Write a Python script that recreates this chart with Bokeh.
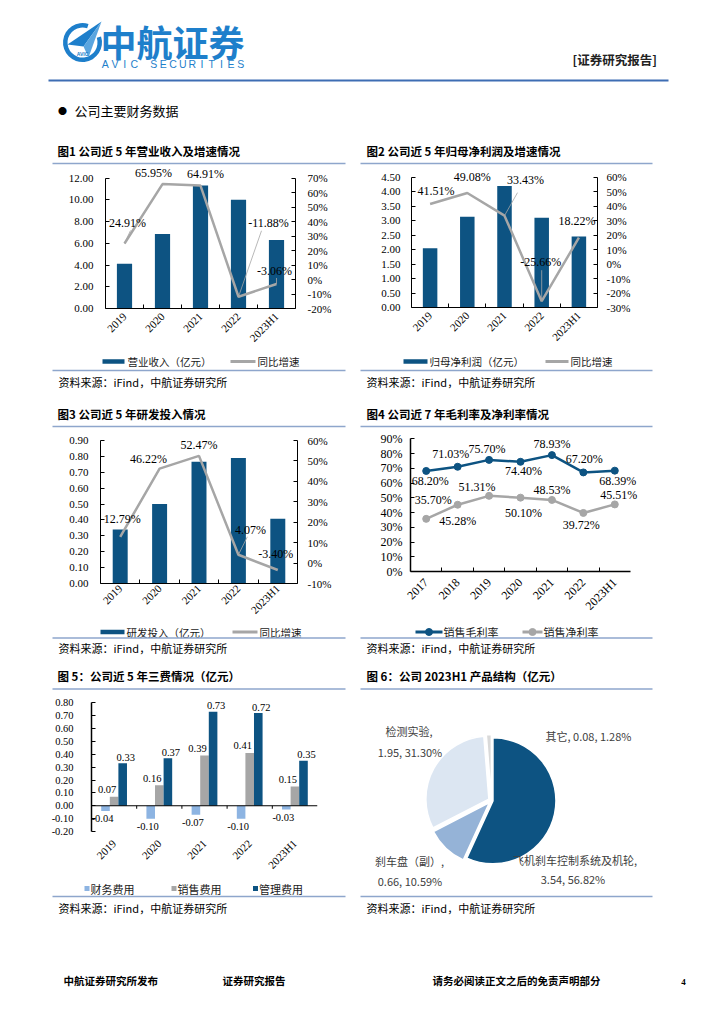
import numpy as np
from math import pi
from bokeh.plotting import figure
from bokeh.models import (Range1d, LinearAxis, FixedTicker, PrintfTickFormatter,
                          ColumnDataSource, LabelSet)
from bokeh.layouts import column, row
from bokeh.embed import file_html
from bokeh.resources import INLINE
from bokeh.core.properties import value

CJK = "Noto Sans CJK SC"
SERIF = "Liberation Serif"
SANS = "Liberation Sans"
DARK = "#0D5382"
GRAY = "#A6A6A6"
LBLUE = "#8DB4E2"
RULE = "#8EA6CC"
BRAND = "#1E7FCB"

# ---------------- data ----------------
years5 = ["2019", "2020", "2021", "2022", "2023H1"]
revenue = [4.13, 6.86, 11.33, 10.01, 6.31]
revenue_yoy = [24.91, 65.95, 64.91, -11.88, -3.06]
net_profit = [2.05, 3.13, 4.20, 3.10, 2.45]
net_profit_yoy = [41.51, 49.08, 33.43, -25.66, 18.22]
rd_input = [0.34, 0.50, 0.766, 0.79, 0.408]
rd_yoy = [12.79, 46.22, 52.47, 4.07, -3.40]
years7 = ["2017", "2018", "2019", "2020", "2021", "2022", "2023H1"]
gross_margin = [68.20, 71.03, 75.70, 74.40, 78.93, 67.20, 68.39]
net_margin = [35.70, 45.28, 51.31, 50.10, 48.53, 39.72, 45.51]
fin_cost = [-0.04, -0.10, -0.07, -0.10, -0.03]
sell_cost = [0.07, 0.16, 0.39, 0.41, 0.15]
admin_cost = [0.33, 0.37, 0.73, 0.72, 0.35]
products = ["飞机刹车控制系统及机轮", "刹车盘（副）", "检测实验", "其它"]
product_value = [3.54, 0.66, 1.95, 0.08]
product_share = [56.82, 10.59, 31.30, 1.28]


# ---------------- helpers ----------------
def deco(x0, x1, y0, y1):
    p = figure(width=int(round(x1 - x0)), height=int(round(y1 - y0)),
               x_range=Range1d(x0, x1), y_range=Range1d(y1, y0),
               x_axis_location=None, y_axis_location=None, title=None,
               output_backend="svg", toolbar_location=None, min_border=0)
    p.grid.visible = False
    p.outline_line_color = None
    return p


def txt(p, x, y, s, size, font=CJK, color="#000000", align="left", bold=False, baseline="middle"):
    p.text(x=[x], y=[y], text=[s], text_font=value(font), text_font_size=f"{size}px",
           text_color=color, text_align=align, text_baseline=baseline,
           text_font_style="bold" if bold else "normal")


def rule(p, x0, x1, y, color=RULE, w=1.5):
    p.segment(x0=[x0], y0=[y], x1=[x1], y1=[y], line_color=color, line_width=w)


def leg_box(p, x0, x1, y, color, h=4.5):
    p.quad(left=[x0], right=[x1], top=[y - h / 2], bottom=[y + h / 2], fill_color=color, line_color=None)


def leg_line(p, x0, x1, y, color, w=3, marker=False):
    p.segment(x0=[x0], y0=[y], x1=[x1], y1=[y], line_color=color, line_width=w)
    if marker:
        p.scatter(x=[(x0 + x1) / 2], y=[y], size=7, fill_color=color, line_color=color)


def ticks(lo, hi, step):
    n = int(round((hi - lo) / step))
    return [round(lo + k * step, 4) for k in range(n + 1)]


def base_chart(fig_w, fl, fw, fh, fb, xr, yr):
    p = figure(width=fig_w, height=fh + fb, x_range=xr, y_range=yr,
               min_border_left=fl, min_border_right=fig_w - fl - fw,
               min_border_top=0, min_border_bottom=fb, title=None,
               output_backend="svg", toolbar_location=None)
    p.grid.visible = False
    p.outline_line_color = None
    return p


def style_num_axis(ax, lo, hi, step, fmt, size, standoff, lw=1.0):
    ax.ticker = FixedTicker(ticks=ticks(lo, hi, step))
    ax.bounds = (lo, hi)
    ax.formatter = PrintfTickFormatter(format=fmt)
    ax.axis_line_color = "black"
    ax.axis_line_width = lw
    ax.major_tick_in = 4
    ax.major_tick_out = 0
    ax.major_tick_line_color = "black"
    ax.minor_tick_line_color = None
    ax.major_label_text_font = SERIF
    ax.major_label_text_font_size = f"{size}px"
    ax.major_label_text_color = "black"
    ax.major_label_standoff = standoff


def style_cat_axis(ax, cats, size, standoff, lw=1.0, line=True, tick=True):
    n = len(cats)
    ax.ticker = FixedTicker(ticks=list(range(n)), minor_ticks=[i + 0.5 for i in range(n - 1)])
    ax.bounds = (-0.5, n - 0.5)
    ax.major_label_overrides = {i: c for i, c in enumerate(cats)}
    ax.major_label_orientation = pi / 4
    ax.major_tick_line_color = None
    ax.major_tick_in = 0
    ax.major_tick_out = 0
    ax.minor_tick_in = 4 if tick else 0
    ax.minor_tick_out = 0
    ax.minor_tick_line_color = "black" if tick else None
    ax.axis_line_color = "black" if line else None
    ax.axis_line_width = lw
    ax.major_label_text_font = SERIF
    ax.major_label_text_font_size = f"{size}px"
    ax.major_label_text_color = "black"
    ax.major_label_standoff = standoff


def labels(p, xs, ys, texts, dx, dy, size="12px", range_name="default"):
    src = ColumnDataSource(dict(x=xs, y=ys, t=texts, dx=dx, dy=dy))
    p.add_layout(LabelSet(x="x", y="y", text="t", x_offset="dx", y_offset="dy", source=src,
                          y_range_name=range_name, text_font=value(SERIF), text_font_size=size,
                          text_align="center", text_baseline="middle", text_color="black"))


def dual_chart(cats, bars, rates, fig_w, fl, fw, fig_top, axis_top, axis_bot, fb,
               ymax, ystep, pmin, pmax, bar_w, lstand, rstand, cstand, csize, dx, dy, leaders):
    n = len(cats)
    idx = np.arange(n)
    fh = int(round(axis_bot - fig_top))
    ext = axis_top - fig_top                     # room above the top tick for data labels
    k = fh / (fh - ext)
    p = base_chart(fig_w, fl, fw, fh, fb, Range1d(-0.5, n - 0.5), Range1d(0, ymax * k))
    p.extra_y_ranges = {"pct": Range1d(pmin, pmin + (pmax - pmin) * k)}
    p.vbar(x=idx, top=bars, bottom=0, width=bar_w, fill_color=DARK, line_color=None)
    p.line(x=idx, y=rates, y_range_name="pct", line_color=GRAY, line_width=2.5)
    ux = fw / n
    uy = (fh - ext) / (pmax - pmin)
    x0, y0, x1, y1 = [], [], [], []
    for i, (lx, ly) in enumerate(leaders):
        if lx or ly:
            x0.append(idx[i]); y0.append(rates[i])
            x1.append(idx[i] + lx / ux); y1.append(rates[i] + ly / uy)
    if x0:
        p.segment(x0=x0, y0=y0, x1=x1, y1=y1, y_range_name="pct", line_color=GRAY, line_width=0.8)
    labels(p, idx, rates, [f"{v:.2f}%" for v in rates], dx, dy, range_name="pct")
    style_num_axis(p.yaxis[0], 0, ymax, ystep, "%.2f", 11, lstand)
    ra = LinearAxis(y_range_name="pct")
    p.add_layout(ra, "right")
    style_num_axis(ra, pmin, pmax, 10, "%d%%", 11, rstand)
    style_cat_axis(p.xaxis[0], cats, csize, cstand)
    return p


# ---------------- header (page y 0..166) ----------------
H = deco(0, 724, 0, 166)
H.annular_wedge(x=[82], y=[42], inner_radius=15, outer_radius=19.5,
                start_angle=[np.deg2rad(72)], end_angle=[np.deg2rad(18)],
                direction="anticlock", fill_color=BRAND, line_color=None)
H.patch(x=[101, 67, 83], y=[21, 44, 46], fill_color=BRAND, line_color=None)
H.patch(x=[101, 83, 88], y=[21, 46, 57], fill_color="#5AA5DF", line_color=None)
txt(H, 82, 53, "AVIC", 5, font=SANS, color=BRAND, align="center", bold=True)
txt(H, 100, 40, "中航证券", 36, color=BRAND, bold=True)
brand_en = "AVIC SECURITIES"
for i, ch in enumerate(brand_en):
    txt(H, 100 + 9.67 * (i + 0.5), 63, ch, 10.5, font=SANS, color=BRAND, align="center")
txt(H, 572, 59, "[证券研究报告]", 12.5, color="#222222", bold=True)
rule(H, 48, 668, 80, color="#3D6DB3", w=2)
txt(H, 62, 110, "●", 9, align="center")
txt(H, 74, 110, "公司主要财务数据", 13)
txt(H, 57, 150, "图1  公司近 5 年营业收入及增速情况", 11.5, bold=True)
txt(H, 366, 150, "图2  公司近 5 年归母净利润及增速情况", 11.5, bold=True)
rule(H, 52, 345, 163)
rule(H, 360, 652, 163)

# ---------------- row 1 (page y 166..354) ----------------
c1 = dual_chart(years5, revenue, revenue_yoy, 358, 105, 190, 166, 177.7, 308, 46,
                12, 2, -20, 70, 0.4, 12, 12, 6, 11,
                dx=[3, -9, 5, 30, -2], dy=[20, 11, 12, 74, 13],
                leaders=[(6, 13), (0, 0), (0, 0), (23, 66), (0, 6)])
c2 = dual_chart(years5, net_profit, net_profit_yoy, 366, 53, 186, 166, 176.7, 307, 47,
                4.5, 0.5, -30, 60, 0.39, 11, 9, 6, 11,
                dx=[6, 5, 21, -1, -2], dy=[13, 16, 36, 39, 17],
                leaders=[(0, 0), (0, 0), (13, 23), (0, 31), (0, 0)])

# ---------------- strip 1 (page y 354..430) ----------------
S1 = deco(0, 724, 354, 430)
leg_box(S1, 102, 124, 361, DARK)
txt(S1, 127, 361, "营业收入（亿元）", 10.5, color="#1a1a1a")
leg_line(S1, 230, 255, 361, GRAY)
txt(S1, 257, 361, "同比增速", 10.5, color="#1a1a1a")
leg_box(S1, 403, 427, 361, DARK)
txt(S1, 429, 361, "归母净利润（亿元）", 10.5, color="#1a1a1a")
leg_line(S1, 545, 568, 361, GRAY)
txt(S1, 570, 361, "同比增速", 10.5, color="#1a1a1a")
rule(S1, 52, 345, 370)
rule(S1, 360, 652, 370)
txt(S1, 58, 381, "资料来源：iFind，中航证券研究所", 11)
txt(S1, 366, 381, "资料来源：iFind，中航证券研究所", 11)
txt(S1, 57, 413, "图3  公司近 5 年研发投入情况", 11.5, bold=True)
txt(S1, 366, 413, "图4  公司近 7 年毛利率及净利率情况", 11.5, bold=True)
rule(S1, 52, 345, 426)
rule(S1, 360, 652, 426)

# ---------------- row 2 (page y 430..625) ----------------
c3 = dual_chart(years5, rd_input, rd_yoy, 358, 100, 197, 430, 440, 583, 42,
                0.9, 0.1, -10, 60, 0.38, 12, 10, 3, 11,
                dx=[2, -11, 0, 12, -2], dy=[18, 10, 11, 25, 16],
                leaders=[(0, 0), (0, 0), (0, 0), (9, 18), (0, 0)])

n7 = len(years7)
idx7 = np.arange(n7)
fh4, ext4, fw4, extra_right4 = 141, 8.3, 228, 8
k4 = fh4 / (fh4 - ext4)
c4 = base_chart(366, 52, fw4, fh4, 54,
                Range1d(-0.5, n7 - 0.5 + extra_right4 * n7 / (fw4 - extra_right4)),
                Range1d(0, 90 * k4))
c4.line(x=idx7, y=gross_margin, line_color=DARK, line_width=2.5)
c4.scatter(x=idx7, y=gross_margin, size=7, fill_color=DARK, line_color=DARK)
c4.line(x=idx7, y=net_margin, line_color=GRAY, line_width=2.5)
c4.scatter(x=idx7, y=net_margin, size=7, fill_color=GRAY, line_color=GRAY)
labels(c4, idx7, gross_margin, [f"{v:.2f}%" for v in gross_margin],
       [4, -7, -2, 3, 0, 1, 3], [-10, 13, 11, -9.5, 11, 13.5, -10])
labels(c4, idx7, net_margin, [f"{v:.2f}%" for v in net_margin],
       [7, 0, -12, 3, 0, -2, 4], [19, -16, 9, -15.7, 10, -12, 9])
style_num_axis(c4.yaxis[0], 0, 90, 10, "%d%%", 12, 8, lw=1.5)
style_cat_axis(c4.xaxis[0], years7, 12, 9, lw=1.5)

# ---------------- strip 2 (page y 625..693) ----------------
S2 = deco(0, 724, 625, 693)
leg_box(S2, 100, 124, 631.5, DARK)
txt(S2, 126, 631.5, "研发投入（亿元）", 10.5, color="#1a1a1a")
leg_line(S2, 232, 257, 631.5, GRAY)
txt(S2, 259, 631.5, "同比增速", 10.5, color="#1a1a1a")
leg_line(S2, 415, 442, 631.5, DARK, marker=True)
txt(S2, 443, 631.5, "销售毛利率", 11, color="#1a1a1a")
leg_line(S2, 522, 542, 631.5, GRAY, marker=True)
txt(S2, 543, 631.5, "销售净利率", 11, color="#1a1a1a")
rule(S2, 52, 345, 637.5)
rule(S2, 360, 652, 637.5)
txt(S2, 58, 647, "资料来源：iFind，中航证券研究所", 11)
txt(S2, 366, 647, "资料来源：iFind，中航证券研究所", 11)
txt(S2, 57, 675, "图 5：公司近 5 年三费情况（亿元）", 11.5, bold=True)
txt(S2, 366, 675, "图 6：公司 2023H1 产品结构（亿元）", 11.5, bold=True)
rule(S2, 52, 345, 688.5)
rule(S2, 360, 652, 688.5)

# ---------------- chart 5 (page y 693..880) ----------------
n5 = len(years5)
idx5 = np.arange(n5)
fh5, ext5 = 138, 9.3
k5 = fh5 / (fh5 - ext5)
c5 = base_chart(358, 91, 226, fh5, 49, Range1d(-0.5, n5 - 0.5), Range1d(-0.2, -0.2 + 1.0 * k5))
dodge = [-0.19, 0.0, 0.19]
series5 = [(fin_cost, LBLUE, -3, -8), (sell_cost, GRAY, -7, 7), (admin_cost, DARK, 3, 6)]
for off, (vals, col, ldx, ldy) in zip(dodge, series5):
    c5.vbar(x=idx5 + off, top=vals, bottom=0, width=0.19, fill_color=col, line_color=None)
c5.segment(x0=[-0.5], y0=[0], x1=[n5 - 0.5], y1=[0], line_color="black", line_width=1)
bnd = idx5[:-1] + 0.5
tick_len = 3 / ((fh5 - ext5) / 1.0)
c5.segment(x0=bnd, y0=[0] * len(bnd), x1=bnd, y1=[-tick_len] * len(bnd), line_color="black")
for off, (vals, col, ldx, ldy) in zip(dodge, series5):
    labels(c5, idx5 + off, vals, [f"{v:.2f}" for v in vals], [ldx] * n5, [ldy] * n5, size="10.5px")
style_num_axis(c5.yaxis[0], -0.2, 0.8, 0.1, "%.2f", 10.5, 18, lw=1.5)
style_cat_axis(c5.xaxis[0], years5, 11, 10, line=False, tick=False)

S5 = deco(0, 358, 880, 918)
legend5 = ["财务费用", "销售费用", "管理费用"]
for (vals, col, _, _), lx, name in zip(series5, [86.5, 173.5, 255], legend5):
    S5.quad(left=[lx - 2.5], right=[lx + 2.5], top=[885.5], bottom=[890.5], fill_color=col, line_color=None)
    txt(S5, lx + 3.5, 888, name, 11, color="#1a1a1a")
rule(S5, 52, 345, 896)
txt(S5, 58, 907, "资料来源：iFind，中航证券研究所", 11)

# ---------------- pie (page x 358..724, y 693..918, centre 491,800) ----------------
PIE = figure(width=366, height=225, x_range=Range1d(-133, 233), y_range=Range1d(-118, 107),
             x_axis_location=None, y_axis_location=None, title=None,
             output_backend="svg", toolbar_location=None, min_border=0)
PIE.grid.visible = False
PIE.outline_line_color = None
share = np.array(product_share)
cum = np.concatenate([[0.0], np.cumsum(share)]) / share.sum()
start = pi / 2 - 2 * pi * cum[:-1]
end = pi / 2 - 2 * pi * cum[1:]
mid = (start + end) / 2
explode = np.array([1.5, 3.0, 3.0, 3.0])
pie_colors = [DARK, "#95B3D7", "#DCE6F2", "#D9D9D9"]
PIE.wedge(x=explode * np.cos(mid), y=explode * np.sin(mid), radius=63,
          start_angle=start, end_angle=end, direction="clock",
          fill_color=pie_colors, line_color="white", line_width=1.5)
line1 = [f"{n}," for n in products]
line2 = [f"{v:.2f}, {s:.2f}%" for v, s in zip(product_value, product_share)]
PIE.text(x=[83.5, -82, -82.5], y=[-59, -60, 70], text=line1[:3], text_font=value(CJK),
         text_font_size="11px", text_color="#404040", text_align="center", text_baseline="middle")
PIE.text(x=[81.5, -81.5, -81.5], y=[-78, -80, 49], text=line2[:3], text_font=value(CJK),
         text_font_size="11px", text_color="#404040", text_align="center", text_baseline="middle")
PIE.text(x=[54], y=[65], text=[f"{products[3]}, {line2[3]}"], text_font=value(CJK),
         text_font_size="11px", text_color="#404040", text_align="left", text_baseline="middle")
PIE.segment(x0=[-131], y0=[-96], x1=[161], y1=[-96], line_color=RULE, line_width=1.5)
PIE.text(x=[-125], y=[-107], text=["资料来源：iFind，中航证券研究所"], text_font=value(CJK),
         text_font_size="11px", text_color="black", text_align="left", text_baseline="middle")

# ---------------- footer (page y 918..1024) ----------------
F = deco(0, 724, 918, 1024)
txt(F, 63, 980, "中航证券研究所发布", 10.5, bold=True)
txt(F, 222, 980, "证券研究报告", 10.5, bold=True)
txt(F, 432, 980, "请务必阅读正文之后的免责声明部分", 10.5, bold=True)
txt(F, 683, 981, "4", 9, font=SERIF, bold=True, align="center")


def W(f):
    return column(f)


layout = column(W(H), row(W(c1), W(c2)), W(S1), row(W(c3), W(c4)), W(S2),
                row(column(W(c5), W(S5)), W(PIE)), W(F))

open("out.html", "w").write(file_html(layout, INLINE))
